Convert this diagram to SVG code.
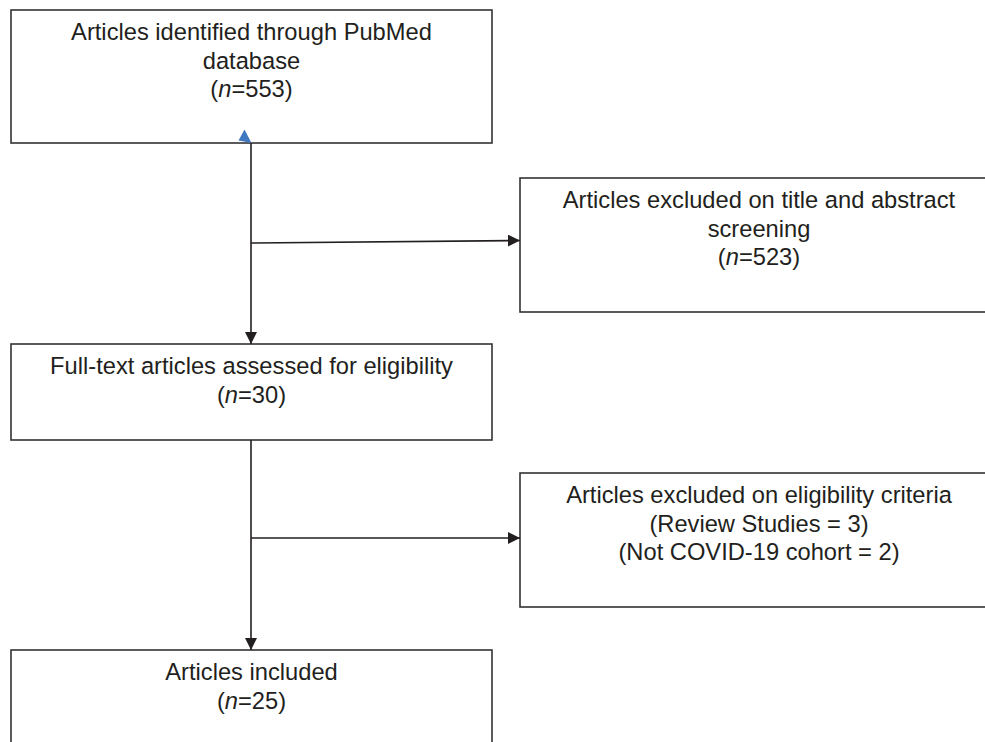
<svg xmlns="http://www.w3.org/2000/svg" width="985" height="742" viewBox="0 0 985 742">
<defs>
<marker id="arr" viewBox="0 0 12 12" refX="12" refY="6" markerWidth="12" markerHeight="12" markerUnits="userSpaceOnUse" orient="auto">
<path d="M0,0 L12,6 L0,12 Z" fill="#231f20"/>
</marker>
<style>
.box{fill:#fff;stroke:#333;stroke-width:1.6}
.t{font-family:"Liberation Sans",Arial,sans-serif;font-size:23.7px;fill:#231f20;text-anchor:middle}
.c{fill:none;stroke:#231f20;stroke-width:1.6}
</style>
</defs>
<rect width="985" height="742" fill="#fff"/>
<g id="identified">
<rect class="box" x="11" y="10" width="481" height="133"/>
<text class="t" x="251.5" y="40">Articles identified through PubMed</text>
<text class="t" x="251.5" y="68.5">database</text>
<text class="t" x="251.5" y="97">(<tspan font-style="italic">n</tspan>=553)</text>
</g>
<g id="excluded1">
<rect class="box" x="520" y="178" width="480" height="134"/>
<text class="t" x="759" y="208">Articles excluded on title and abstract</text>
<text class="t" x="759" y="236.5">screening</text>
<text class="t" x="759" y="265">(<tspan font-style="italic">n</tspan>=523)</text>
</g>
<g id="fulltext">
<rect class="box" x="11" y="344" width="481" height="96"/>
<text class="t" x="251.5" y="374">Full-text articles assessed for eligibility</text>
<text class="t" x="251.5" y="402.5">(<tspan font-style="italic">n</tspan>=30)</text>
</g>
<g id="excluded2">
<rect class="box" x="520" y="473" width="480" height="134"/>
<text class="t" x="759" y="503">Articles excluded on eligibility criteria</text>
<text class="t" x="759" y="531.5">(Review Studies = 3)</text>
<text class="t" x="759" y="560">(Not COVID-19 cohort = 2)</text>
</g>
<g id="included">
<rect class="box" x="11" y="650" width="481" height="110"/>
<text class="t" x="251.5" y="680">Articles included</text>
<text class="t" x="251.5" y="708.5">(<tspan font-style="italic">n</tspan>=25)</text>
</g>
<g id="connectors">
<line class="c" x1="251" y1="143" x2="251" y2="344" marker-end="url(#arr)"/>
<line class="c" x1="251" y1="243" x2="520" y2="240.5" marker-end="url(#arr)"/>
<line class="c" x1="251" y1="440" x2="251" y2="650" marker-end="url(#arr)"/>
<line class="c" x1="251" y1="538" x2="520" y2="538" marker-end="url(#arr)"/>
<polygon points="244.5,129.5 251.5,143 238.5,140.5" fill="#4179c0"/>
</g>
</svg>
